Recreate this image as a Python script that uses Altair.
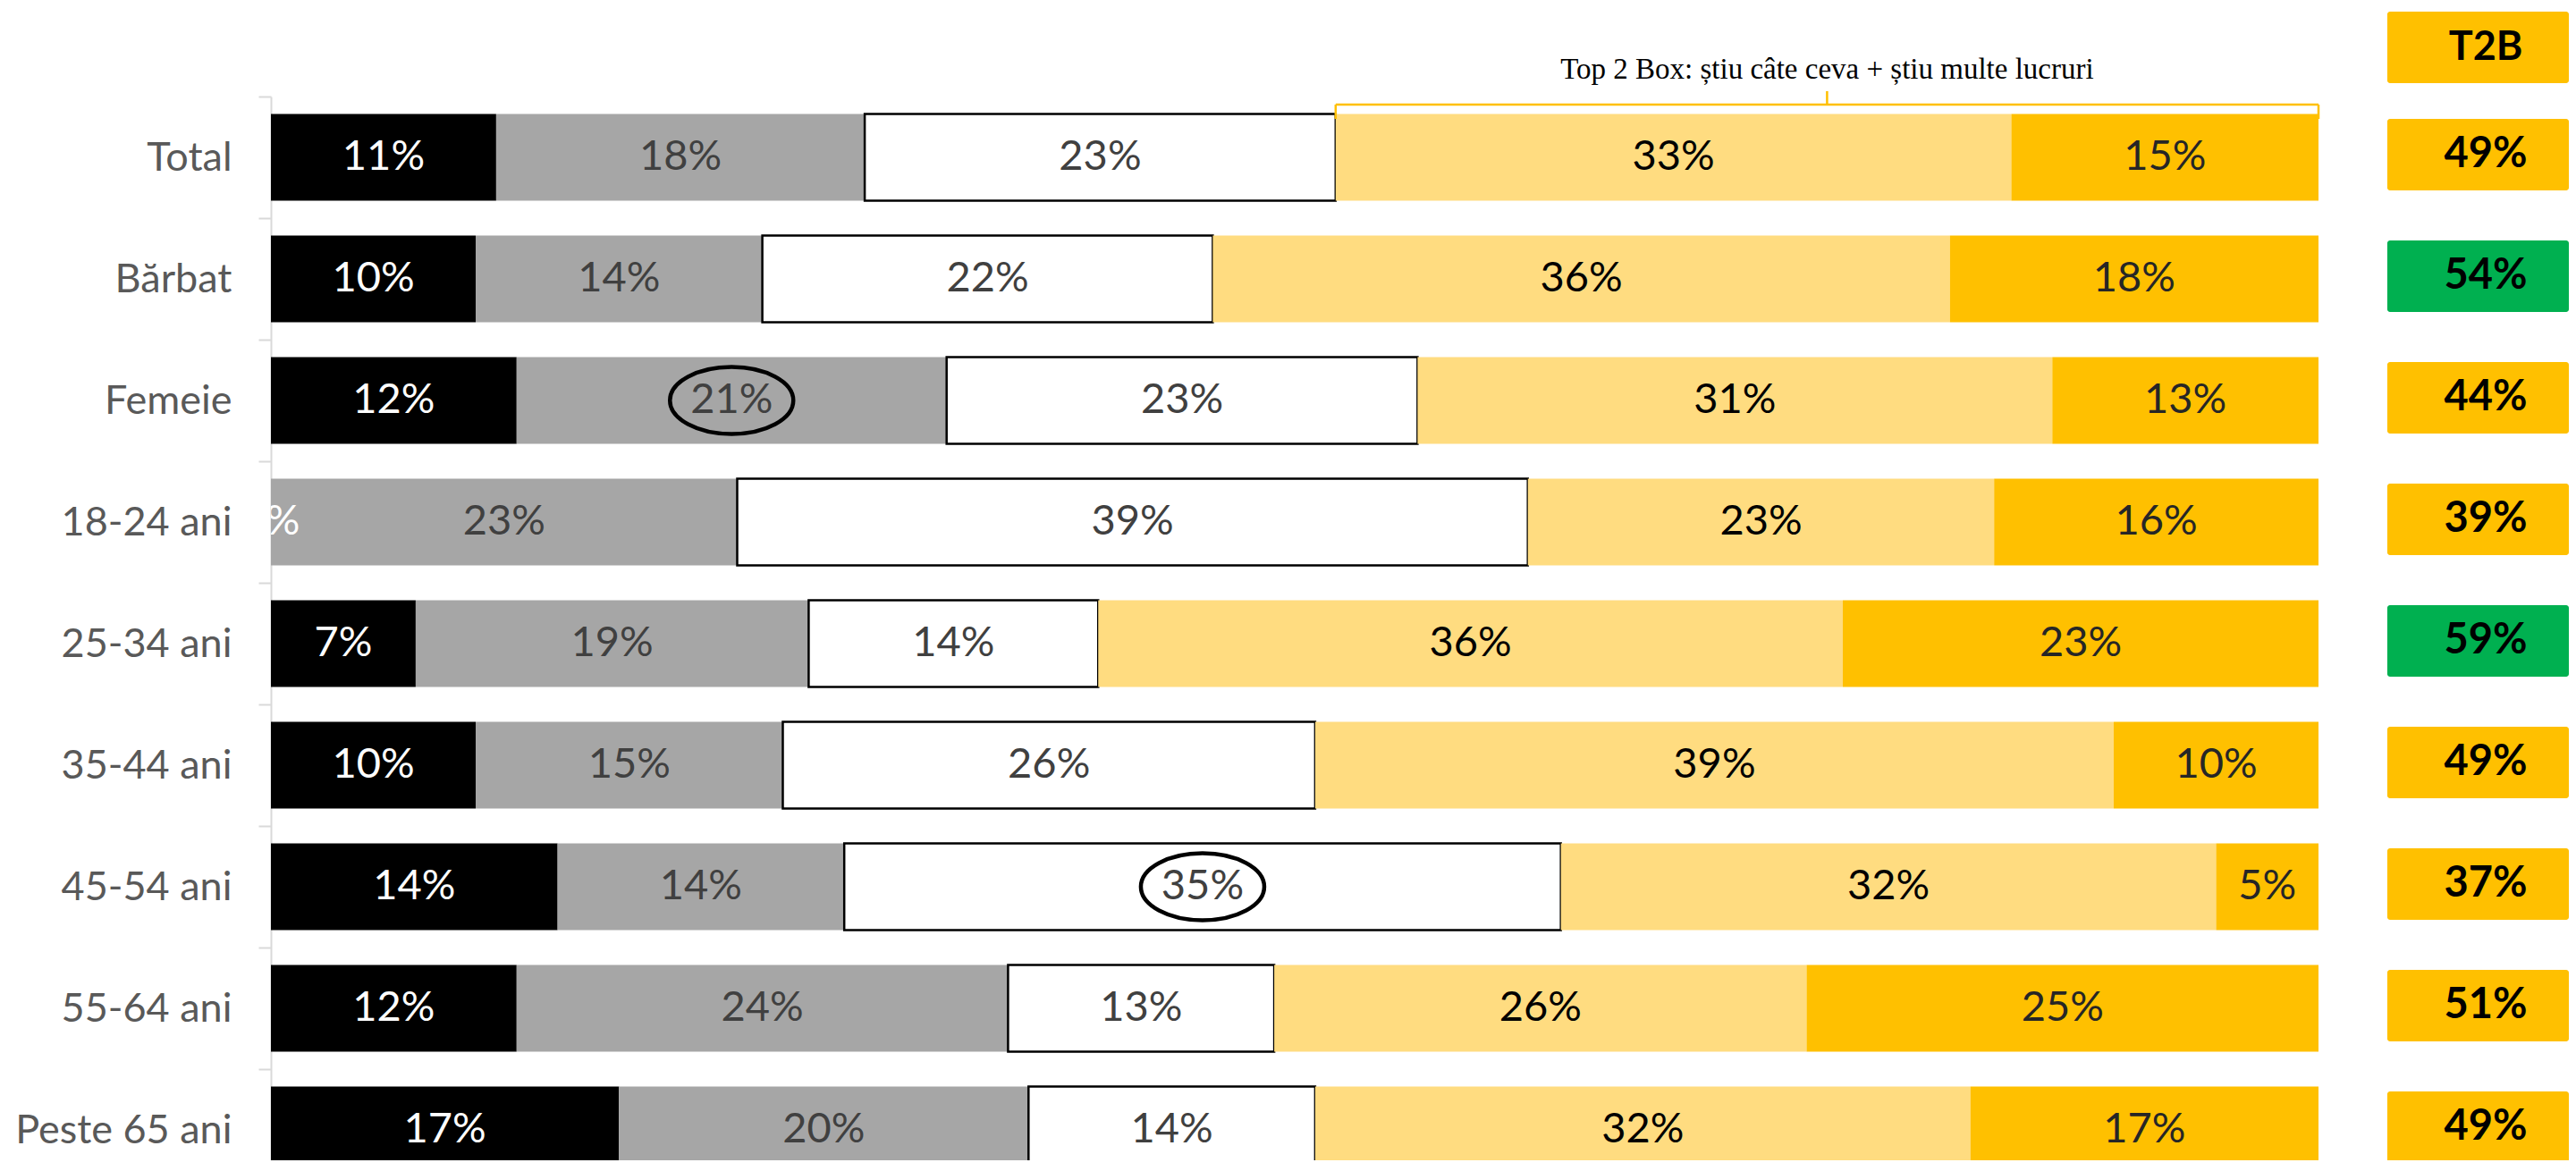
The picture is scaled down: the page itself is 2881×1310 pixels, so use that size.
import altair as alt
import pandas as pd

# ---------------- data ----------------
groups = ["Total", "Bărbat", "Femeie", "18-24 ani", "25-34 ani",
          "35-44 ani", "45-54 ani", "55-64 ani", "Peste 65 ani"]
categories = ["Nu știu nimic", "Știu foarte puțin", "Am auzit doar",
              "Știu câte ceva", "Știu multe lucruri"]

v_nimic   = [11, 10, 12, 0, 7, 10, 14, 12, 17]
v_putin   = [18, 14, 21, 23, 19, 15, 14, 24, 20]
v_auzit   = [23, 22, 23, 39, 14, 26, 35, 13, 14]
v_ceva    = [33, 36, 31, 23, 36, 39, 32, 26, 32]
v_multe   = [15, 18, 13, 16, 23, 10, 5, 25, 17]

t2b_values = [49, 54, 44, 39, 59, 49, 37, 51, 49]
t2b_significant = [False, True, False, False, True, False, False, False, False]

circled = [("Femeie", "Știu foarte puțin"), ("45-54 ani", "Am auzit doar")]

annotation = "Top 2 Box: știu câte ceva + știu multe lucruri"

# ---------------- styles ----------------
bar_colors = ["#000000", "#A6A6A6", "#FFFFFF", "#FFDC80", "#FFC000"]
text_colors = ["#FFFFFF", "#404040", "#404040", "#000000", "#262626"]

series = [v_nimic, v_putin, v_auzit, v_ceva, v_multe]
rows = []
for gi, g in enumerate(groups):
    for ci, c in enumerate(categories):
        v = series[ci][gi]
        rows.append({"group": g, "cat": c, "order": ci, "value": v,
                     "label": f"{v}%", "circled": (g, c) in circled})
df = pd.DataFrame(rows)

df_t2b = pd.DataFrame({"group": groups, "t2b": [f"{v}%" for v in t2b_values],
                       "sig": t2b_significant})

# layout
PLOT_W = 2570
PX_PER_UNIT = 2290
D = PLOT_W / PX_PER_UNIT
BOX_X0 = 1.0336
BOX_TX = 1.0817

xscale = alt.Scale(domain=[0, D], nice=False, zero=False)
yscale = alt.Scale(domain=groups, range=[0, 1224], paddingInner=0, paddingOuter=0)

yaxis = alt.Axis(title=None, domainColor="#D9D9D9", domainWidth=2,
                 tickColor="#D9D9D9", tickWidth=2, tickSize=14, tickBand="extent",
                 labelFont="Lato", labelFontSize=45, labelColor="#595959",
                 labelPadding=30, labelLimit=0)

base = alt.Chart(df).transform_stack(
    stack="value", groupby=["group"], sort=[alt.SortField("order")],
    as_=["x0", "x1"], offset="normalize"
).transform_calculate(mid="(datum.x0 + datum.x1) / 2")

bars = base.mark_bar(size=97, stroke="#000000").encode(
    y=alt.Y("group:N", scale=yscale, axis=yaxis, sort=groups),
    x=alt.X("x0:Q", scale=xscale, axis=None),
    x2="x1:Q",
    color=alt.Color("cat:N", scale=alt.Scale(domain=categories, range=bar_colors), legend=None),
    strokeWidth=alt.condition(alt.datum.cat == "Am auzit doar", alt.value(2.5), alt.value(0)),
    order=alt.Order("order:Q"),
)

labels = base.mark_text(font="Lato", fontSize=47, clip=True).encode(
    y=alt.Y("group:N", scale=yscale, sort=groups),
    x=alt.X("mid:Q", scale=xscale),
    text="label:N",
    color=alt.Color("cat:N", scale=alt.Scale(domain=categories, range=text_colors), legend=None),
)

ellipse_path = ("M 1 0 C 1 0.3 0.5523 0.543 0 0.543 C -0.5523 0.543 -1 0.3 -1 0 "
                "C -1 -0.3 -0.5523 -0.543 0 -0.543 C 0.5523 -0.543 1 -0.3 1 0 Z")
ellipses = base.transform_filter(alt.datum.circled).mark_point(
    shape=ellipse_path, size=19044, filled=False, stroke="#000000",
    strokeWidth=4.5, opacity=1
).encode(
    y=alt.Y("group:N", scale=yscale, sort=groups),
    x=alt.X("mid:Q", scale=xscale),
)

t2b_boxes = alt.Chart(df_t2b).mark_bar(size=80, cornerRadius=3, yOffset=-3).encode(
    y=alt.Y("group:N", scale=yscale, sort=groups),
    x=alt.datum(BOX_X0),
    x2=alt.datum(D),
    color=alt.condition(alt.datum.sig, alt.value("#00B050"), alt.value("#FFC000")),
)
t2b_text = alt.Chart(df_t2b).mark_text(font="Lato", fontWeight="bold", fontSize=47,
                                       color="#000000", dy=-3).encode(
    y=alt.Y("group:N", scale=yscale, sort=groups),
    x=alt.datum(BOX_TX),
    text="t2b:N",
)

hdr = pd.DataFrame({"t": ["T2B"]})
header_box = alt.Chart(hdr).mark_rect(cornerRadius=3, color="#FFC000").encode(
    x=alt.datum(BOX_X0), x2=alt.datum(D), y=alt.value(-95), y2=alt.value(-15))
header_text = alt.Chart(hdr).mark_text(font="Lato", fontWeight="bold", fontSize=45,
                                       color="#000000").encode(
    x=alt.datum(BOX_TX), y=alt.value(-55), text="t:N")

# bracket over the Total row's top-2 segments (derived from the data)
tot = [s[0] for s in series]
b0 = (tot[0] + tot[1] + tot[2]) / sum(tot)
b1 = 1.0
bm = (b0 + b1) / 2
br_df = pd.DataFrame({"a": [b0], "b": [b1], "m": [bm], "txt": [annotation]})
gold = "#FFC000"
br_h = alt.Chart(br_df).mark_rule(color=gold, strokeWidth=2.5).encode(
    x=alt.X("a:Q", scale=xscale), x2="b:Q", y=alt.value(9))
br_l = alt.Chart(br_df).mark_rule(color=gold, strokeWidth=2.5).encode(
    x=alt.X("a:Q", scale=xscale), y=alt.value(9), y2=alt.value(25))
br_r = alt.Chart(br_df).mark_rule(color=gold, strokeWidth=2.5).encode(
    x=alt.X("b:Q", scale=xscale), y=alt.value(9), y2=alt.value(25))
br_m = alt.Chart(br_df).mark_rule(color=gold, strokeWidth=2.5).encode(
    x=alt.X("m:Q", scale=xscale), y=alt.value(-6), y2=alt.value(9))
br_t = alt.Chart(br_df).mark_text(font="Liberation Serif", fontSize=33, color="#000000",
                                  baseline="alphabetic").encode(
    x=alt.X("m:Q", scale=xscale), y=alt.value(-20), text="txt:N")

chart = alt.layer(
    bars, labels, ellipses, t2b_boxes, t2b_text, header_box, header_text,
    br_h, br_l, br_r, br_m, br_t
).resolve_scale(color="independent").properties(
    width=PLOT_W, height=1190,
    autosize=alt.AutoSizeParams(type="none"),
    padding={"left": 295, "top": 100, "right": 0, "bottom": 0},
).configure_view(stroke=None)

chart.save("out.html", embed_options={"renderer": "svg", "actions": False})
